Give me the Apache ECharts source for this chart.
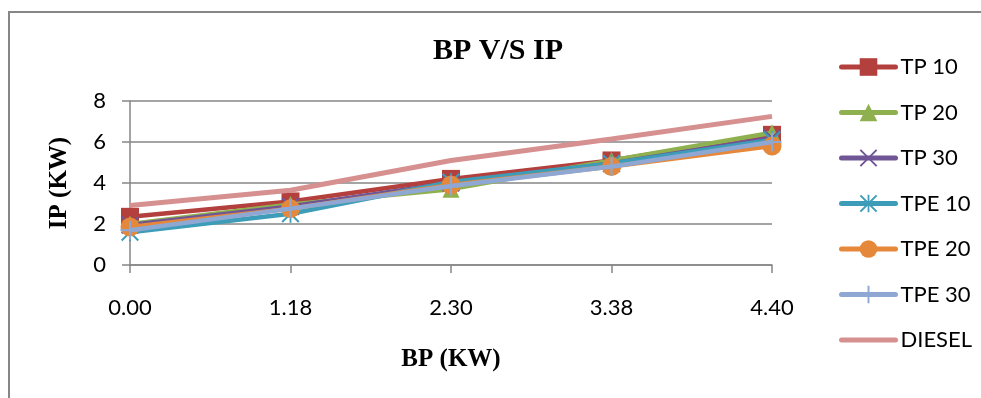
<!DOCTYPE html>
<html>
<head>
<meta charset="utf-8">
<script src="https://cdn.jsdelivr.net/npm/echarts@6/dist/echarts.min.js"></script>
<style>
html,body{margin:0;padding:0;background:#fff;}
#c{width:981px;height:398px;}
</style>
</head>
<body>
<div id="c"></div>
<script>
const categories = ['0.00', '1.18', '2.30', '3.38', '4.40'];
const seriesNames = ['TP 10', 'TP 20', 'TP 30', 'TPE 10', 'TPE 20', 'TPE 30', 'DIESEL'];
const tp10 = [2.35, 3.1, 4.2, 5.1, 6.35];
const tp20 = [2.0, 2.95, 3.7, 5.1, 6.45];
const tp30 = [1.95, 2.85, 4.0, 4.95, 6.2];
const tpe10 = [1.6, 2.5, 4.05, 4.95, 6.1];
const tpe20 = [1.85, 2.75, 3.9, 4.8, 5.8];
const tpe30 = [1.7, 2.75, 3.85, 4.8, 6.0];
const diesel = [2.9, 3.65, 5.1, 6.15, 7.25];
const yTicks = [0, 2, 4, 6, 8];

const colors = ['#B3403D', '#8FB04E', '#6F5596', '#3D9DB8', '#E5883A', '#8EA8D3', '#D69090'];
const plusPath = 'path://M-1,-9 L1,-9 L1,-1 L9,-1 L9,1 L1,1 L1,9 L-1,9 L-1,1 L-9,1 L-9,-1 L-1,-1 Z';
const xPath = 'path://M-9,-7.6 L-7.6,-9 L0,-1.4 L7.6,-9 L9,-7.6 L1.4,0 L9,7.6 L7.6,9 L0,1.4 L-7.6,9 L-9,7.6 L-1.4,0 Z';
const starPath = 'path://M-9,-7.6 L-7.6,-9 L-0.9,-2.3 L-0.9,-9 L0.9,-9 L0.9,-2.3 L7.6,-9 L9,-7.6 L1.4,0 L9,7.6 L7.6,9 L0.9,2.3 L0.9,9 L-0.9,9 L-0.9,2.3 L-7.6,9 L-9,7.6 L-1.4,0 Z';
const symbols = ['rect', 'triangle', xPath, starPath, 'circle', plusPath, 'circle'];
const sizes = [18, 17, 18, 18, 19, 19, 0];
const dataArr = [tp10, tp20, tp30, tpe10, tpe20, tpe30, diesel];

const series = seriesNames.map((n, i) => ({
  name: n,
  type: 'line',
  data: dataArr[i],
  symbol: symbols[i],
  symbolSize: sizes[i],
  showSymbol: i !== 6,
  color: colors[i],
  lineStyle: { width: i === 6 ? 5 : 4.5, color: colors[i] },
  itemStyle: { color: colors[i] },
  animation: false,
  z: 2 + i
}));

const legendData = seriesNames.map((n, i) => i === 6 ? { name: n, itemStyle: { opacity: 0 } } : { name: n });

const chart = echarts.init(document.getElementById('c'), null, { renderer: 'canvas' });
chart.setOption({
  animation: false,
  color: colors,
  title: {
    text: 'BP V/S IP',
    left: 428,
    top: 31,
    textStyle: { fontFamily: 'Liberation Serif', fontWeight: 'bold', fontSize: 30, color: '#000' }
  },
  legend: {
    orient: 'vertical',
    left: 834,
    top: 51,
    itemWidth: 54,
    itemHeight: 22,
    itemGap: 23.5,
    data: legendData,
    lineStyle: { width: 5, cap: 'round' },
    textStyle: { fontFamily: 'Lato', fontSize: 22, color: '#000' }
  },
  grid: { left: 130, right: 209, top: 101, bottom: 133, containLabel: false },
  xAxis: {
    type: 'category',
    data: categories,
    boundaryGap: false,
    name: 'BP (KW)',
    nameLocation: 'middle',
    nameGap: 82,
    nameTextStyle: { fontFamily: 'Liberation Serif', fontWeight: 'bold', fontSize: 25, color: '#000' },
    axisLine: { lineStyle: { color: '#868686', width: 1.5 } },
    axisTick: { show: true, length: 8, lineStyle: { color: '#868686', width: 1.5 } },
    axisLabel: { fontFamily: 'Lato', fontSize: 22, color: '#000', margin: 32 },
    splitLine: { show: false }
  },
  yAxis: {
    type: 'value',
    min: yTicks[0],
    max: yTicks[yTicks.length - 1],
    interval: 2,
    name: 'IP (KW)',
    nameLocation: 'middle',
    nameGap: 58,
    nameTextStyle: { fontFamily: 'Liberation Serif', fontWeight: 'bold', fontSize: 25, color: '#000' },
    axisLine: { show: true, lineStyle: { color: '#868686', width: 1.5 } },
    axisTick: { show: true, length: 8, lineStyle: { color: '#868686', width: 1.5 } },
    axisLabel: { fontFamily: 'Lato', fontSize: 22, color: '#000', margin: 24 },
    splitLine: { show: true, lineStyle: { color: '#868686', width: 1.5 } }
  },
  graphic: [{
    type: 'rect',
    shape: { x: 9, y: 12, width: 1100, height: 600 },
    style: { fill: 'none', stroke: '#868686', lineWidth: 2 },
    silent: true,
    z: -10
  }],
  series: series
});
</script>
</body>
</html>
